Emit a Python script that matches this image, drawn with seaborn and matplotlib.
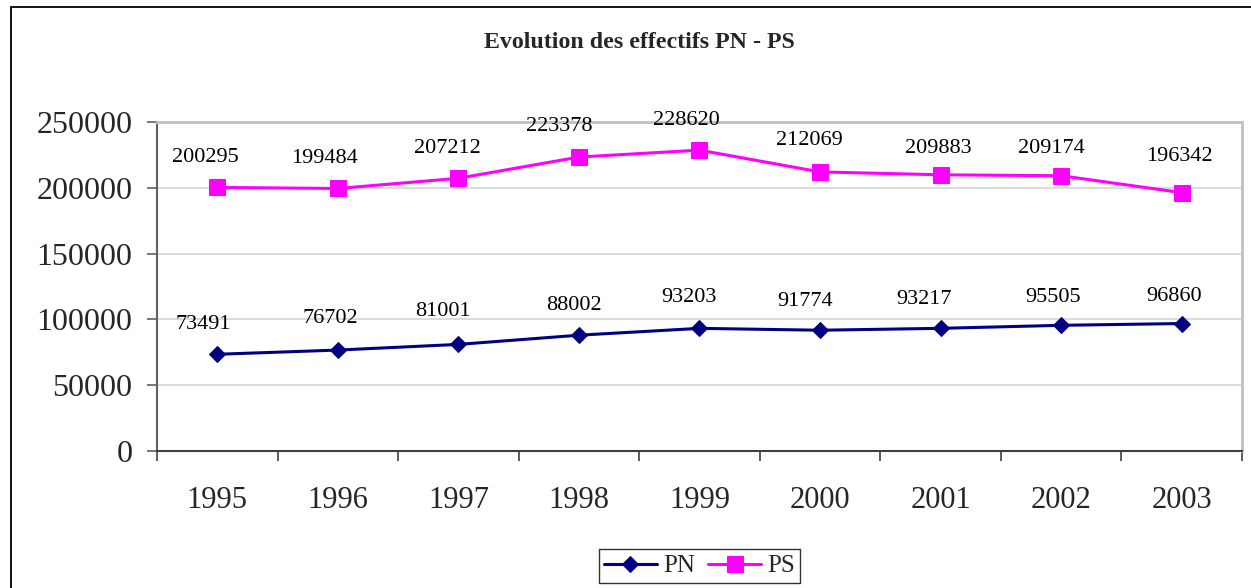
import matplotlib
matplotlib.use("Agg")
import matplotlib.pyplot as plt
from matplotlib.patches import Rectangle
import seaborn as sns
import pandas as pd

years = ["1995", "1996", "1997", "1998", "1999", "2000", "2001", "2002", "2003"]
pn = [73491, 76702, 81001, 88002, 93203, 91774, 93217, 95505, 96860]
ps = [200295, 199484, 207212, 223378, 228620, 212069, 209883, 209174, 196342]
y_ticks = [0, 50000, 100000, 150000, 200000, 250000]
title = "Evolution des effectifs PN - PS"

# value-label placement relative to each marker, in pixels (dx right, dy up to text centre)
pn_label_dx = [-14, -8, -15, -5.5, -11, -15, -16.5, -8.5, -7.5]
pn_label_dy = [32.5, 34, 36, 33, 34, 32, 31.5, 31, 30]
ps_label_dx = [-11.5, -13.5, -11.5, -20, -13.5, -11, -2.5, -9.5, -2]
ps_label_dy = [32.5, 33, 33, 33, 32, 34, 29, 30, 38.5]

sns.set_theme(style="white")
plt.rcParams["font.family"] = ["Liberation Serif", "DejaVu Serif"]

DPI = 100
PX = 72 / DPI  # points per pixel

df = pd.DataFrame({
    "pos": list(range(len(years))) * 2,
    "val": pn + ps,
    "serie": ["PN"] * len(years) + ["PS"] * len(years),
})

fig = plt.figure(figsize=(12.51, 5.88), dpi=DPI)
ax = fig.add_axes([157 / 1251, 1 - 451 / 588, (1242 - 157) / 1251, (451 - 122) / 588])

styles = {
    "PN": dict(color="#000080", marker="D", markersize=8.6,
               dx=pn_label_dx, dy=pn_label_dy),
    "PS": dict(color="#FF00FF", marker="s", markersize=11,
               dx=ps_label_dx, dy=ps_label_dy),
}
label_size = 16
for name, st in styles.items():
    sub = df[df["serie"] == name]
    sns.lineplot(data=sub, x="pos", y="val", ax=ax, color=st["color"],
                 marker=st["marker"], markersize=st["markersize"],
                 markeredgecolor=st["color"], linewidth=2.2, label=name,
                 legend=False)
    for x, v, dx, dy in zip(sub["pos"], sub["val"], st["dx"], st["dy"]):
        # text centre sits dy px above the marker; baseline is ~0.33 em lower
        base = dy - 0.33 * label_size / PX
        ax.annotate(str(v), (x, v), xytext=(dx * PX, base * PX),
                    textcoords="offset points", ha="center", va="baseline",
                    fontsize=label_size, color="black")

ax.set_xlim(-0.5, len(years) - 0.5)
ax.set_ylim(0, 250000)
ax.set_yticks(y_ticks)
ax.set_yticklabels([str(t) for t in y_ticks], fontsize=23)
ax.set_xticks([i for i in range(len(years))])
ax.set_xticklabels(years, fontsize=22)
ax.set_xticks([i - 0.5 for i in range(len(years) + 1)], minor=True)
ax.tick_params(axis="x", which="major", length=0, pad=25)
ax.tick_params(axis="x", which="minor", length=7.2, width=1.2, color="#404040",
               direction="out", bottom=True)
ax.tick_params(axis="y", length=7.2, width=1.2, color="#606060", direction="out",
               left=True, pad=10.5)
ax.set_xlabel("")
ax.set_ylabel("")
ax.grid(axis="y", color="#d9d9d9", linewidth=1.3)
ax.grid(axis="x", visible=False)
ax.set_axisbelow(True)

for side, col, lw in [("top", "#c0c0c0", 2.0), ("right", "#c0c0c0", 2.0),
                      ("left", "#606060", 1.5), ("bottom", "#404040", 1.5)]:
    ax.spines[side].set_visible(True)
    ax.spines[side].set_color(col)
    ax.spines[side].set_linewidth(lw)

fig.text(639 / 1251, 1 - 42 / 588, title, ha="center", va="center",
         fontsize=17.2, fontweight="bold")

handles, labels = ax.get_legend_handles_labels()
leg = fig.legend(handles, labels, loc="center", ncol=2,
                 bbox_to_anchor=(699.5 / 1251, 1 - 566 / 588),
                 fontsize=18, frameon=True, fancybox=False, shadow=False,
                 handlelength=2.1, handletextpad=0.25, columnspacing=0.55,
                 borderpad=0.22, borderaxespad=0)
leg.get_frame().set_edgecolor("black")
leg.get_frame().set_linewidth(1.0)

fig.patches.append(Rectangle((11 / 1251, -0.1), 1.2, 1 - 7 / 588 + 0.1,
                             transform=fig.transFigure, fill=False,
                             edgecolor="black", linewidth=1.3, zorder=0))

fig.savefig("out.png", dpi=DPI)
